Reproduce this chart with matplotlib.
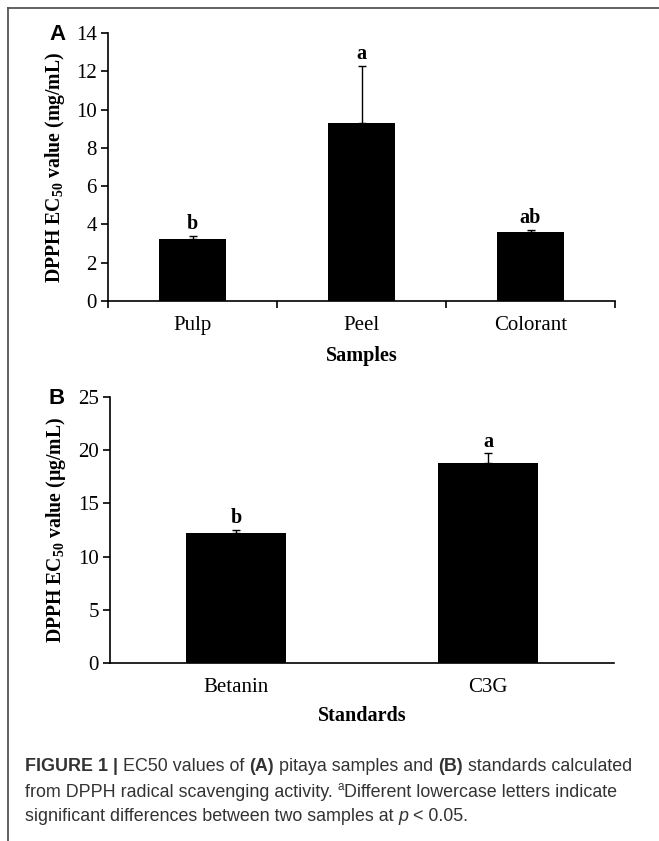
import matplotlib
matplotlib.use("Agg")
import matplotlib.pyplot as plt
from matplotlib.lines import Line2D
from matplotlib.ticker import FixedLocator

# ---------- data ----------
samples = ["Pulp", "Peel", "Colorant"]
samples_ec50 = [3.24, 9.30, 3.60]
samples_err = [0.16, 2.97, 0.11]
samples_sig = ["b", "a", "ab"]

standards = ["Betanin", "C3G"]
standards_ec50 = [12.19, 18.83]
standards_err = [0.31, 0.87]
standards_sig = ["b", "a"]

# ---------- style ----------
SERIF = "Liberation Serif"
SANS = "Liberation Sans"
CAPTION_INK = "#333333"
FRAME = "#555555"
TICK_SIZE = 15
LABEL_SIZE = 14.2

plt.rcParams["mathtext.fontset"] = "custom"
plt.rcParams["mathtext.rm"] = "Liberation Serif:bold"
plt.rcParams["mathtext.bf"] = "Liberation Serif:bold"

W, H = 659, 841
fig = plt.figure(figsize=(W / 100, H / 100), dpi=100)
fig.patch.set_facecolor("white")

# frame lines (top + left)
fig.add_artist(Line2D([8 / W, 1.0], [1 - 8 / H, 1 - 8 / H], transform=fig.transFigure,
                      color=FRAME, linewidth=1.3))
fig.add_artist(Line2D([8 / W, 8 / W], [0.0, 1 - 8 / H], transform=fig.transFigure,
                      color=FRAME, linewidth=1.3))


def bar_panel(ax, cats, vals, errs, sig, ymax, ystep, ylabel, xlabel,
              ylab_x, xlab_y, boundary_ticks):
    x = list(range(len(cats)))
    ax.bar(x, vals, width=0.40, color="black", zorder=2)
    ax.errorbar(x, vals, yerr=[[0] * len(errs), errs], fmt="none", ecolor="black",
                elinewidth=1.0, capsize=2.7, capthick=1.0, zorder=3)
    for xi, v, e, s in zip(x, vals, errs, sig):
        ax.annotate(s, (xi, v + e), xytext=(0, 1.2), textcoords="offset points",
                    ha="center", va="bottom", fontfamily=SERIF, fontweight="bold",
                    fontsize=14.5)
    ax.set_xlim(-0.5, len(cats) - 0.5)
    ax.set_ylim(0, ymax)
    ax.set_yticks([i * ystep for i in range(int(ymax / ystep) + 1)])
    ax.set_xticks(x)
    ax.set_xticklabels(cats)
    ax.tick_params(axis="x", which="major", length=0, pad=11)
    if boundary_ticks:
        ax.xaxis.set_minor_locator(FixedLocator([i - 0.5 for i in range(len(cats) + 1)]))
        ax.tick_params(axis="x", which="minor", length=5, width=1.2, direction="out")
    ax.tick_params(axis="y", length=5, width=1.2, direction="out", pad=3)
    for lab in ax.get_xticklabels() + ax.get_yticklabels():
        lab.set_fontfamily(SERIF)
        lab.set_fontsize(TICK_SIZE)
    for sp in ("top", "right"):
        ax.spines[sp].set_visible(False)
    for sp in ("left", "bottom"):
        ax.spines[sp].set_linewidth(1.2)
    ax.set_ylabel(ylabel, fontfamily=SERIF, fontweight="bold", fontsize=LABEL_SIZE)
    ax.yaxis.set_label_coords(ylab_x, 0.5)
    ax.set_xlabel(xlabel, fontfamily=SERIF, fontweight="bold", fontsize=14.5)
    ax.xaxis.set_label_coords(0.5, xlab_y)


axA = fig.add_axes([108 / W, 1 - 301 / H, 507 / W, 268 / H])
bar_panel(axA, samples, samples_ec50, samples_err, samples_sig, 14, 2,
          r"DPPH EC$_{50}$ value (mg/mL)", "Samples", -0.081, -0.168, True)

axB = fig.add_axes([110 / W, 1 - 663 / H, 504 / W, 266 / H])
bar_panel(axB, standards, standards_ec50, standards_err, standards_sig, 25, 5,
          r"DPPH EC$_{50}$ value (µg/mL)", "Standards", -0.083, -0.162, False)

fig.text(57 / W, 1 - 34 / H, "A", fontfamily=SANS, fontweight="bold", fontsize=16,
         ha="center", va="center")
fig.text(57 / W, 1 - 398 / H, "B", fontfamily=SANS, fontweight="bold", fontsize=16,
         ha="center", va="center")

# ---------- caption with mixed styles ----------
CAP_SIZE = 12.9
caption_lines = [
    [("FIGURE 1 |", "bold", "normal", False), (" EC50 values of ", "normal", "normal", False),
     ("(A)", "bold", "normal", False), (" pitaya samples and ", "normal", "normal", False),
     ("(B)", "bold", "normal", False), (" standards calculated", "normal", "normal", False)],
    [("from DPPH radical scavenging activity. ", "normal", "normal", False),
     ("a", "normal", "normal", True),
     ("Different lowercase letters indicate", "normal", "normal", False)],
    [("significant differences between two samples at ", "normal", "normal", False),
     ("p", "normal", "italic", False), (" < 0.05.", "normal", "normal", False)],
]
line_y = [771, 797, 821]

fig.canvas.draw()
renderer = fig.canvas.get_renderer()
for runs, yy in zip(caption_lines, line_y):
    xpix = 25
    for text, weight, style, sup in runs:
        size = CAP_SIZE * 0.65 if sup else CAP_SIZE
        ypix = yy - 7 if sup else yy
        t = fig.text(xpix / W, 1 - ypix / H, text, fontfamily=SANS, fontweight=weight,
                     fontstyle=style, fontsize=size, color=CAPTION_INK, va="baseline")
        bb = t.get_window_extent(renderer)
        xpix += bb.width

fig.savefig("out.png", dpi=100, facecolor="white")
